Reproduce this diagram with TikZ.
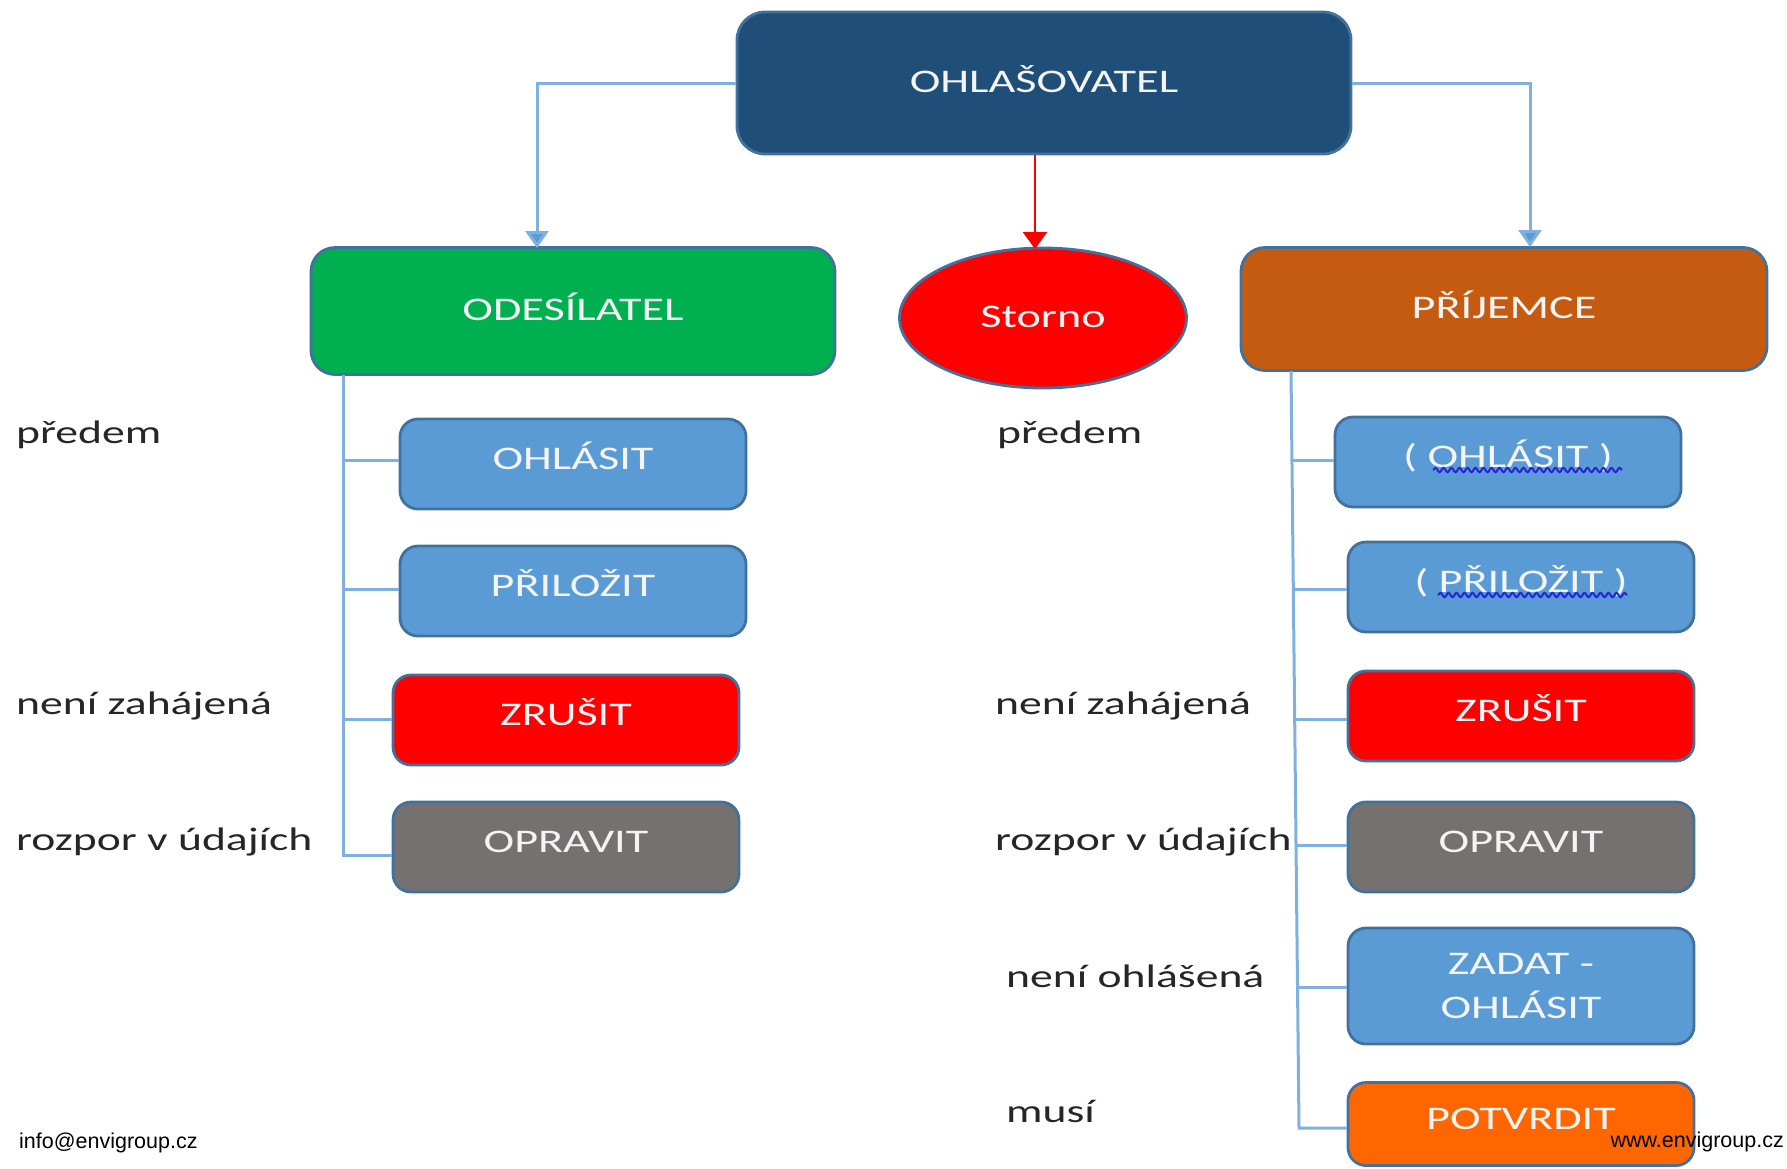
\documentclass[tikz,border=0pt]{standalone}
\usepackage{fontspec}
\setmainfont{Carlito}[FakeStretch=1.4]
\newfontfamily\footfont{Liberation Sans}
\usetikzlibrary{arrows.meta,shapes.geometric,decorations.pathmorphing}
\definecolor{topc}{HTML}{1F4E79}
\definecolor{greenc}{HTML}{00B050}
\definecolor{brownc}{HTML}{C55A11}
\definecolor{bluec}{HTML}{5B9BD5}
\definecolor{grayc}{HTML}{767171}
\definecolor{orangec}{HTML}{FF6600}
\definecolor{redc}{HTML}{FF0000}
\definecolor{bordc}{HTML}{41719C}
\definecolor{connc}{HTML}{7EB0E0}
\definecolor{lblc}{HTML}{262626}
\definecolor{txtc}{HTML}{F4F4F4}
\definecolor{squig}{HTML}{2424D8}
\begin{document}
\begin{tikzpicture}[x=1pt,y=-1pt,
  box/.style={draw=bordc, line width=2.8pt, rounded corners=18pt, text=txtc,
    font=\fontsize{33}{44}\selectfont, align=center, inner sep=0pt},
  captext/.style={text height=21.5pt, text depth=3pt},
  capup/.style={text height=21.5pt, text depth=11pt},
  smallbox/.style={box, capup, minimum width=346pt, minimum height=90pt},
  lbl/.style={text=lblc, font=\fontsize{32.6}{40}\selectfont, inner sep=0pt},
  foot/.style={text=black, font=\footfont\fontsize{21.5}{26}\selectfont, inner sep=0pt},
  conn/.style={draw=connc, line width=3pt},
  bluetip/.style={-{Triangle[length=17pt,width=23pt,fill=bluec]}},
  squiggle/.style={draw=squig, line width=2pt, decorate,
    decoration={snake, amplitude=2.2pt, segment length=8pt}}
]
\useasboundingbox (0,0) rectangle (1787,1168);

% top level
\node[box, captext, fill=topc, rounded corners=28pt, minimum width=614pt, minimum height=142pt] (top) at (1044,83) {OHLAŠOVATEL};
\node[box, captext, fill=greenc, rounded corners=24pt, minimum width=524pt, minimum height=127pt] (ode) at (573,311) {ODESÍLATEL};
\node[ellipse, draw=bordc, line width=2.8pt, fill=redc, text=txtc, captext, inner sep=0pt,
  font=\fontsize{33}{40}\selectfont, minimum width=287pt, minimum height=140pt] (sto) at (1043,318) {Storno};
\node[box, captext, fill=brownc, rounded corners=24pt, minimum width=526pt, minimum height=123pt] (pri) at (1504,309) {PŘÍJEMCE};

% left column
\node[smallbox, fill=bluec] (lo1) at (573,464) {OHLÁSIT};
\node[smallbox, fill=bluec] (lo2) at (573,591) {PŘILOŽIT};
\node[smallbox, fill=redc] (lo3) at (566,720) {ZRUŠIT};
\node[smallbox, fill=grayc] (lo4) at (566,847) {OPRAVIT};

% right column
\node[smallbox, fill=bluec] (ro1) at (1508,462) {( OHLÁSIT )};
\node[smallbox, fill=bluec] (ro2) at (1521,587) {( PŘILOŽIT )};
\node[smallbox, fill=redc] (ro3) at (1521,716) {ZRUŠIT};
\node[smallbox, fill=grayc] (ro4) at (1521,847) {OPRAVIT};
\node[box, fill=bluec, minimum width=346pt, minimum height=116pt] (ro5) at (1521,986) {ZADAT -\\OHLÁSIT};
\node[smallbox, fill=orangec, minimum height=83pt] (ro6) at (1521,1124) {POTVRDIT};

% spell-check squiggles
\draw[squiggle] (1433,470) -- (1622,470);
\draw[squiggle] (1438,595) -- (1627,595);

% labels
\node[lbl, anchor=base west] (la1) at (16,443) {předem};
\node[lbl, anchor=base west] (la2) at (16,714) {není zahájená};
\node[lbl, anchor=base west] (la3) at (16,850) {rozpor v údajích};
\node[lbl, anchor=base west] (ra1) at (997,443) {předem};
\node[lbl, anchor=base west] (ra2) at (995,714) {není zahájená};
\node[lbl, anchor=base west] (ra3) at (995,850) {rozpor v údajích};
\node[lbl, anchor=base west] (ra4) at (1006,987) {není ohlášená};
\node[lbl, anchor=base west] (ra5) at (1006,1122) {musí};

% top connectors
\coordinate (lA) at (537,248);
\coordinate (rA) at (1530,247);
\coordinate (sA) at (1035,249);
\draw[conn, bluetip] (top.west) -| (lA);
\draw[conn, bluetip] (top.east) -| (rA);
\draw[draw=redc, line width=2.5pt, -{Triangle[length=17pt,width=24pt]}] (top.south -| sA) -- (sA);

% left tree
\coordinate (lS) at (343,375);
\coordinate (lT) at (343,855);
\coordinate (lb1) at (343,460);
\coordinate (lb2) at (343,589);
\coordinate (lb3) at (343,719);
\draw[conn] (lS) -- (lT) -- (lT -| lo4.west);
\draw[conn] (lb1) -- (lb1 -| lo1.west);
\draw[conn] (lb2) -- (lb2 -| lo2.west);
\draw[conn] (lb3) -- (lb3 -| lo3.west);

% right tree
\coordinate (rS) at (1291,371);
\coordinate (rT) at (1299,1128);
\coordinate (rb1) at (1292,460);
\coordinate (rb2) at (1293,589);
\coordinate (rb3) at (1295,719);
\coordinate (rb4) at (1296,845);
\coordinate (rb5) at (1297.5,987);
\draw[conn] (rS) -- (rT) -- (rT -| ro6.west);
\draw[conn] (rb1) -- (rb1 -| ro1.west);
\draw[conn] (rb2) -- (rb2 -| ro2.west);
\draw[conn] (rb3) -- (rb3 -| ro3.west);
\draw[conn] (rb4) -- (rb4 -| ro4.west);
\draw[conn] (rb5) -- (rb5 -| ro5.west);

% footer
\node[foot, anchor=base west] (f1) at (19,1148) {info@envigroup.cz};
\node[foot, anchor=base east] (f2) at (1784,1147) {www.envigroup.cz};
\end{tikzpicture}
\end{document}
